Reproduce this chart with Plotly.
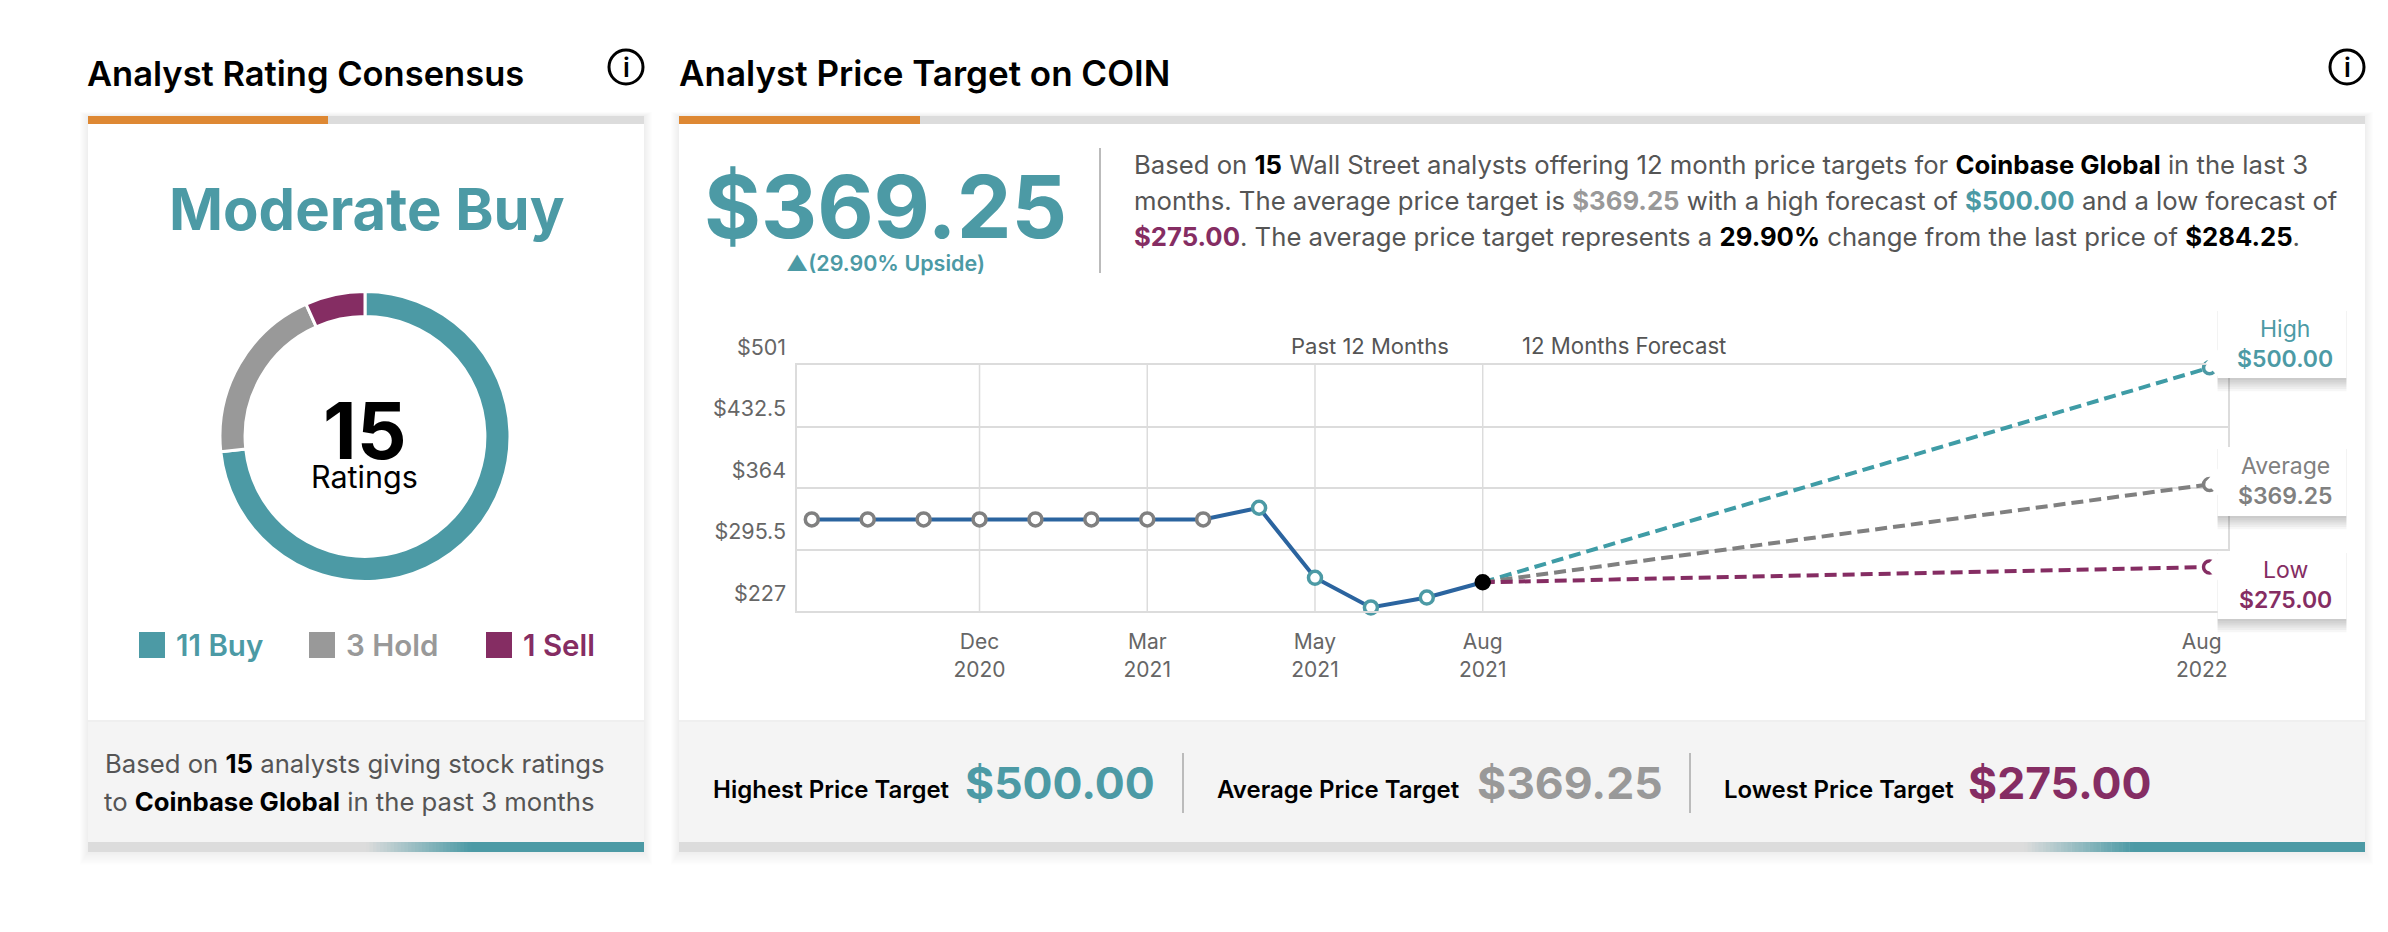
import plotly.graph_objects as go

W, H = 2388, 932
TEAL = "#4C9AA5"
PURPLE = "#852D63"
GRAY = "#999999"
BAR = "#DCDCDC"
FONT = "Inter"

# ratings
rating_labels = ["Buy", "Hold", "Sell"]
rating_counts = [11, 3, 1]
rating_colors = [TEAL, GRAY, PURPLE]

# price history, x is the month position on the axis
hist_x = [0, 1, 2, 3, 4, 5, 6, 7, 8, 9, 10, 11, 12]
hist_y = [329, 329, 329, 329, 329, 329, 329, 329, 342, 264, 231, 242, 259]
hist_marker = ["#808080"] * 8 + [TEAL] * 4 + ["#000000"]

# forecast
forecast_x = [12, 25]
high_y = [259, 498]
avg_y = [259, 368]
low_y = [259, 276]

y_ticks = [227, 295.5, 364, 432.5, 501]
y_labels = ["$227", "$295.5", "$364", "$432.5", "$501"]
x_ticks = [3, 6, 9, 12, 24.86]
x_labels = ["Dec<br>2020", "Mar<br>2021", "May<br>2021", "Aug<br>2021", "Aug<br>2022"]
grid_x = [3, 6, 9, 12]


def px(x):
    return x / W


def py(y):
    return 1 - y / H


shapes = []
annotations = []


def rect(x0, y0, x1, y1, color, layer="below"):
    shapes.append(dict(type="rect", xref="paper", yref="paper", x0=px(x0), x1=px(x1), y0=py(y0), y1=py(y1),
                       fillcolor=color, line=dict(width=0), layer=layer))


def label(x, base, text, size, color="#555555", anchor="left", weight=400):
    # base is the text baseline in pixels from the top
    annotations.append(dict(xref="paper", yref="paper", x=px(x), y=py(base - 0.34 * size), text=text,
                            showarrow=False, xanchor=anchor, yanchor="middle", borderpad=0,
                            font=dict(family=FONT, size=size, color=color, weight=weight)))


def gradient_bar(x0, x1, y0, y1, start, end):
    steps = 30
    c0, c1 = (220, 220, 220), (76, 154, 165)
    rect(x0, y0, start, y1, BAR)
    rect(end, y0, x1, y1, TEAL)
    step = (end - start) / steps
    for i in range(steps):
        t = (i + 0.5) / steps
        col = [round(a + (b - a) * t) for a, b in zip(c0, c1)]
        rect(start + i * step, y0, start + (i + 1) * step + 0.5, y1, "rgb(%d,%d,%d)" % tuple(col))


def card(x0, x1, split):
    for i in range(1, 9):
        rect(x0 - i, 116 - i * 0.5, x1 + i, 852 + i * 1.6, "rgba(0,0,0,0.006)")
    rect(x0, 116, x1, 852, "white")
    rect(x0, 116, x1, 124, BAR)
    rect(x0, 116, split, 124, "#DE8833")
    rect(x0, 722, x1, 842, "#F4F4F4")
    rect(x0, 720, x1, 722, "#EFEFEF")


def info_icon(cx, cy):
    shapes.append(dict(type="circle", xref="paper", yref="paper", x0=px(cx - 17), x1=px(cx + 17),
                       y0=py(cy - 17), y1=py(cy + 17), line=dict(color="black", width=3), layer="above"))
    label(cx, cy + 9, "i", 26, "black", "center", 600)


def callout(y0, y1, tip):
    x0, x1 = 2217.5, 2346.5
    for i in range(1, 7):
        rect(x0, y0 + 2, x1, y1 + i * 2.2, "rgba(0,0,0,0.035)", "above")
    rect(x0, y0, x1, y1, "white", "above")
    path = "M %f,%f L %f,%f L %f,%f Z" % (px(x0 + 1), py(tip - 14), px(x0 - 12), py(tip), px(x0 + 1), py(tip + 14))
    shapes.append(dict(type="path", xref="paper", yref="paper", path=path, fillcolor="white",
                       line=dict(width=0), layer="above"))


# cards
card(88, 644, 328)
card(679, 2365, 920)
gradient_bar(88, 644, 842, 852, 366, 471)
gradient_bar(679, 2365, 842, 852, 2024, 2133)
info_icon(626, 67)
info_icon(2347, 67)

# headings
label(86, 85, "Analyst Rating Consensus", 34.5, "black", weight=600)
label(678, 85, "Analyst Price Target on COIN", 35, "black", weight=600)

# left card
label(367, 229, "Moderate Buy", 58, TEAL, "center", 700)
label(364, 457, "15", 78, "black", "center", 700)
label(364, 487, "Ratings", 30.5, "black", "center")
legend_box_x = [139, 309, 486]
for i, x in enumerate(legend_box_x):
    rect(x, 632, x + 26, 658, rating_colors[i])
    label(x + 36, 655, "%d %s" % (rating_counts[i], rating_labels[i]), 29.5, rating_colors[i], weight=600)
B = '<span style="color:#000"><b>%s</b></span>'
label(104, 772, "Based on " + B % "15" + " analysts giving stock ratings", 25.7)
label(103, 810, "to " + B % "Coinbase Global" + " in the past 3 months", 25.7)

# top of right card
label(885, 236, "$369.25", 87, TEAL, "center", 700)
label(885, 270, "▲(29.90% Upside)", 21.5, TEAL, "center", 600)
rect(1099, 148, 1101, 273, "#BBBBBB")
COL = '<span style="color:%s"><b>%s</b></span>'
label(1133, 173, "Based on " + B % "15" + " Wall Street analysts offering 12 month price targets for "
      + B % "Coinbase Global" + " in the last 3", 25.7)
label(1133, 209, "months. The average price target is " + COL % (GRAY, "$369.25") + " with a high forecast of "
      + COL % (TEAL, "$500.00") + " and a low forecast of", 25.7)
label(1133, 245, COL % (PURPLE, "$275.00") + ". The average price target represents a " + B % "29.90%"
      + " change from the last price of " + B % "$284.25" + ".", 25.7)

# chart captions
label(1290, 353, "Past 12 Months", 22)
label(1521, 353, "12 Months Forecast", 22.2)

# callouts
callout(309, 378, 363)
callout(447, 516, 482)
callout(551, 619, 567)
label(2285, 337, "High", 23, TEAL, "center")
label(2285, 367, "$500.00", 23, TEAL, "center", 600)
label(2285, 474, "Average", 23, "#808080", "center")
label(2285, 504, "$369.25", 23, "#808080", "center", 600)
label(2285, 578, "Low", 23, PURPLE, "center")
label(2285, 608, "$275.00", 23, PURPLE, "center", 600)

# footer of right card
label(712, 798, "Highest Price Target", 24, "black", weight=600)
label(964, 798, "$500.00", 44.5, TEAL, weight=700)
rect(1182, 753, 1184, 813, "#BBBBBB")
label(1216, 798, "Average Price Target", 24, "black", weight=600)
label(1476, 798, "$369.25", 44.5, GRAY, weight=700)
rect(1689, 753, 1691, 813, "#BBBBBB")
label(1723, 798, "Lowest Price Target", 24, "black", weight=600)
label(1967, 798, "$275.00", 44.5, PURPLE, weight=700)

for gx in grid_x:
    shapes.append(dict(type="line", xref="x", yref="paper", x0=gx, x1=gx, y0=py(611), y1=py(365),
                       line=dict(color=BAR, width=1.5), layer="below"))

fig = go.Figure()
fig.add_trace(go.Pie(labels=rating_labels, values=rating_counts, hole=0.827, sort=False, direction="clockwise",
                     rotation=0, textinfo="none", showlegend=False,
                     marker=dict(colors=rating_colors, line=dict(color="white", width=3)),
                     domain=dict(x=[px(220), px(510)], y=[py(581.5), py(291.5)])))

dashes = [(high_y, "#3F9CA6", TEAL), (avg_y, "#808080", "#808080"), (low_y, PURPLE, PURPLE)]
for ys, col, mcol in dashes:
    fig.add_trace(go.Scatter(x=forecast_x, y=ys, mode="lines", showlegend=False, cliponaxis=False,
                             line=dict(color=col, width=4, dash="12px,6px")))
    fig.add_trace(go.Scatter(x=forecast_x[1:], y=ys[1:], mode="markers", showlegend=False, cliponaxis=False,
                             marker=dict(size=12, color="white", line=dict(color=mcol, width=3.5))))

fig.add_trace(go.Scatter(x=hist_x, y=hist_y, mode="lines+markers", showlegend=False, cliponaxis=False,
                         line=dict(color="#2B649F", width=4),
                         marker=dict(size=13, color=["white"] * 12 + ["black"],
                                     line=dict(color=hist_marker, width=3.5))))

fig.update_layout(
    width=W, height=H, margin=dict(l=0, r=0, t=0, b=0, autoexpand=False), paper_bgcolor="white",
    plot_bgcolor="rgba(0,0,0,0)",
    font=dict(family=FONT, color="#666666", size=21), shapes=shapes, annotations=annotations,
    xaxis=dict(domain=[px(797.4), px(2228)], range=[-0.2576, 25.33], tickmode="array", tickvals=x_ticks,
               ticktext=x_labels, showgrid=False, zeroline=False, showline=True, mirror=True, automargin=False,
               linecolor=BAR, linewidth=2, ticks="", tickangle=0, tickfont=dict(size=21), ticklabelstandoff=11),
    yaxis=dict(domain=[py(611), py(365)], range=[227, 501], tickmode="array", tickvals=y_ticks, ticktext=y_labels,
               showgrid=True, gridcolor=BAR, gridwidth=2, zeroline=False, showline=True, mirror=True, automargin=False,
               linecolor=BAR, linewidth=2, ticks="", tickfont=dict(size=21.5), ticklabelshift=-18,
               ticklabelstandoff=5),
)

fig.write_html("out.html", config={"displayModeBar": False}, post_script="document.body.style.margin='0';")
